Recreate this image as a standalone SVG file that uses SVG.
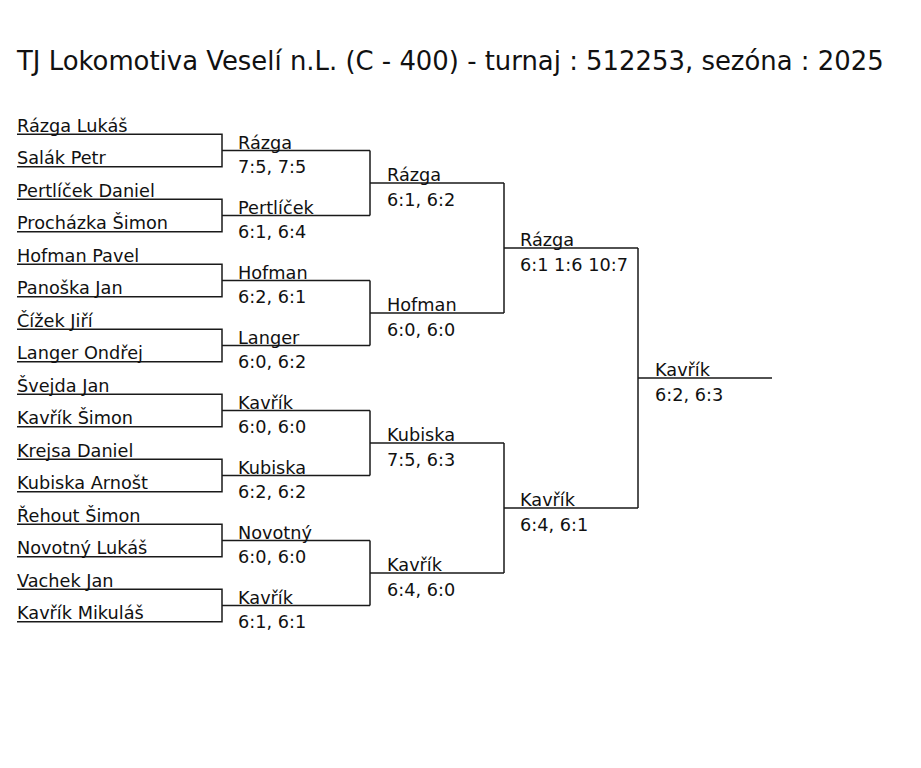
<svg xmlns="http://www.w3.org/2000/svg" width="921" height="768" viewBox="0 0 921 768">
<style>
text{font-family:"DejaVu Sans",Verdana,sans-serif;fill:#111;}
.t{font-size:25.9px;}
.n{font-size:17.7px;}
.c path{fill:none;stroke:#1a1a1a;stroke-width:1.5;}
</style>
<rect width="921" height="768" fill="#fff"/>
<text id="title" class="t" x="17" y="69.5">TJ Lokomotiva Veselí n.L. (C - 400) - turnaj : 512253, sezóna : 2025</text>
<g class="c" id="connectors">
<path d="M17 134.3H222V166.8H17M222 150.5H370"/>
<path d="M17 199.3H222V231.8H17M222 215.5H370"/>
<path d="M17 264.3H222V296.8H17M222 280.5H370"/>
<path d="M17 329.3H222V361.8H17M222 345.5H370"/>
<path d="M17 394.3H222V426.8H17M222 410.5H370"/>
<path d="M17 459.3H222V491.8H17M222 475.5H370"/>
<path d="M17 524.3H222V556.8H17M222 540.5H370"/>
<path d="M17 589.3H222V621.8H17M222 605.5H370"/>
<path d="M370 150.5V215.5M370 183H504"/>
<path d="M370 280.5V345.5M370 313H504"/>
<path d="M370 410.5V475.5M370 443H504"/>
<path d="M370 540.5V605.5M370 573H504"/>
<path d="M504 183V313M504 248H638"/>
<path d="M504 443V573M504 508H638"/>
<path d="M638 248V508M638 378H772"/>
</g>
<g id="players" class="n">
<text x="17" y="131.8">Rázga Lukáš</text>
<text x="17" y="164.3">Salák Petr</text>
<text x="17" y="196.8">Pertlíček Daniel</text>
<text x="17" y="229.3">Procházka Šimon</text>
<text x="17" y="261.8">Hofman Pavel</text>
<text x="17" y="294.3">Panoška Jan</text>
<text x="17" y="326.8">Čížek Jiří</text>
<text x="17" y="359.3">Langer Ondřej</text>
<text x="17" y="391.8">Švejda Jan</text>
<text x="17" y="424.3">Kavřík Šimon</text>
<text x="17" y="456.8">Krejsa Daniel</text>
<text x="17" y="489.3">Kubiska Arnošt</text>
<text x="17" y="521.8">Řehout Šimon</text>
<text x="17" y="554.3">Novotný Lukáš</text>
<text x="17" y="586.8">Vachek Jan</text>
<text x="17" y="619.3">Kavřík Mikuláš</text>
</g>
<g id="round2" class="n">
<g id="m1"><text x="238" y="148.5">Rázga</text><text x="238" y="173">7:5, 7:5</text></g>
<g id="m2"><text x="238" y="213.5">Pertlíček</text><text x="238" y="238">6:1, 6:4</text></g>
<g id="m3"><text x="238" y="278.5">Hofman</text><text x="238" y="303">6:2, 6:1</text></g>
<g id="m4"><text x="238" y="343.5">Langer</text><text x="238" y="368">6:0, 6:2</text></g>
<g id="m5"><text x="238" y="408.5">Kavřík</text><text x="238" y="433">6:0, 6:0</text></g>
<g id="m6"><text x="238" y="473.5">Kubiska</text><text x="238" y="498">6:2, 6:2</text></g>
<g id="m7"><text x="238" y="538.5">Novotný</text><text x="238" y="563">6:0, 6:0</text></g>
<g id="m8"><text x="238" y="603.5">Kavřík</text><text x="238" y="628">6:1, 6:1</text></g>
</g>
<g id="round3" class="n">
<g id="q1"><text x="387" y="181">Rázga</text><text x="387" y="205.5">6:1, 6:2</text></g>
<g id="q2"><text x="387" y="311">Hofman</text><text x="387" y="335.5">6:0, 6:0</text></g>
<g id="q3"><text x="387" y="441">Kubiska</text><text x="387" y="465.5">7:5, 6:3</text></g>
<g id="q4"><text x="387" y="571">Kavřík</text><text x="387" y="595.5">6:4, 6:0</text></g>
</g>
<g id="round4" class="n">
<g id="s1"><text x="520" y="246">Rázga</text><text x="520" y="270.5">6:1 1:6 10:7</text></g>
<g id="s2"><text x="520" y="506">Kavřík</text><text x="520" y="530.5">6:4, 6:1</text></g>
</g>
<g id="final" class="n">
<text x="655" y="376">Kavřík</text><text x="655" y="400.5">6:2, 6:3</text>
</g>
</svg>
